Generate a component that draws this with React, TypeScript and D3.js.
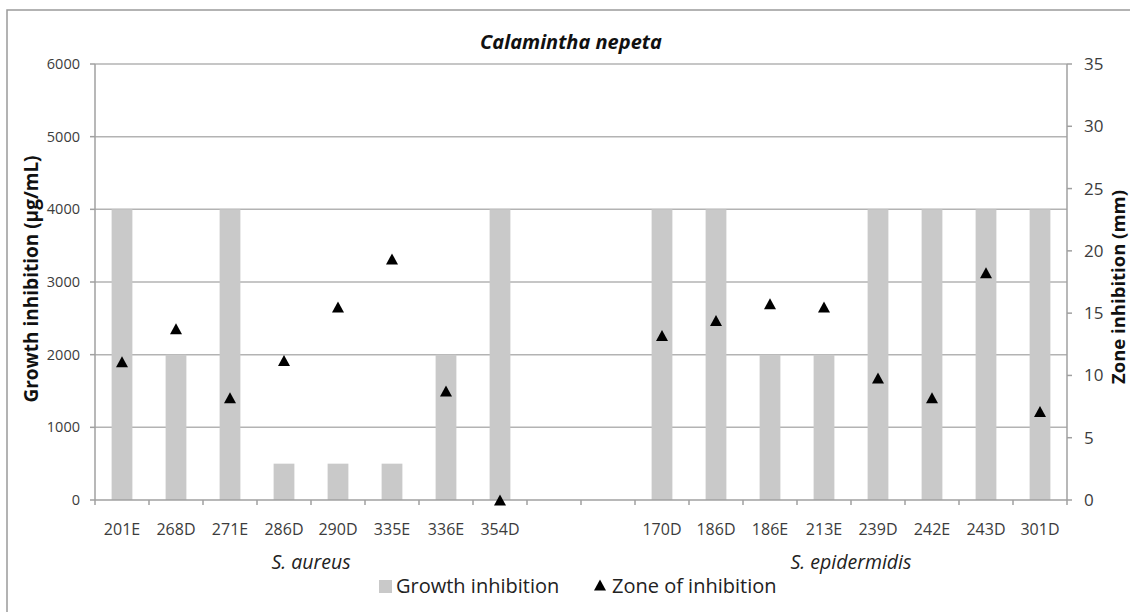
import React from "react";
import * as d3 from "d3";

const categories = ["201E","268D","271E","286D","290D","335E","336E","354D","gap1","gap2","170D","186D","186E","213E","239D","242E","243D","301D"];
const categoryLabels = ["201E","268D","271E","286D","290D","335E","336E","354D","","","170D","186D","186E","213E","239D","242E","243D","301D"];
const growthInhibition: (number | null)[] = [4000,2000,4000,500,500,500,2000,4000,null,null,4000,4000,2000,2000,4000,4000,4000,4000];
const zoneInhibition: (number | null)[] = [11.1,13.75,8.2,11.2,15.5,19.35,8.75,0,null,null,13.2,14.4,15.75,15.5,9.8,8.2,18.25,7.1];
const leftTicks = [0,1000,2000,3000,4000,5000,6000];
const rightTicks = [0,5,10,15,20,25,30,35];
const groups = [
  { name: "S. aureus", from: 0, to: 7 },
  { name: "S. epidermidis", from: 10, to: 17 },
];

const W = 1130, H = 612;
const L = 95, R = 1067, T = 64, B = 500;
const FONT = "'Open Sans', 'Liberation Sans', sans-serif";
const GRID = "#b3b3b3";
const AXIS = "#a0a0a0";
const TXT = "#3c3c3c";
const BAR = "#c9c9c9";

export default function App() {
  const x = d3.scaleBand<string>().domain(categories).range([L, R]).paddingInner(0).paddingOuter(0);
  const yL = d3.scaleLinear().domain([0, 6000]).range([B, T]);
  const yR = d3.scaleLinear().domain([0, 35]).range([B, T]);
  const bw = x.bandwidth() * 0.385;
  const tri = (cx: number, cy: number) => {
    const w = 12, h = 11;
    return `M${cx},${cy - h / 2}L${cx + w / 2},${cy + h / 2}L${cx - w / 2},${cy + h / 2}Z`;
  };
  const boundaries = d3.range(categories.length + 1).map(i => L + i * x.step());

  return (
    <svg width={W} height={H} style={{ position: "absolute", left: 0, top: 0, background: "#fff" }} fontFamily={FONT}>
      <rect x={7} y={10} width={1200} height={700} fill="#fff" stroke="#9a9a9a" strokeWidth={1.5} />
      {/* gridlines */}
      {leftTicks.filter(t => t > 0).map(t => (
        <line key={"g" + t} x1={L} x2={R} y1={yL(t)} y2={yL(t)} stroke={GRID} strokeWidth={1.5} />
      ))}
      {/* bars */}
      {categories.map((c, i) => growthInhibition[i] == null ? null : (
        <rect key={"b" + c} x={x(c)! + x.bandwidth() / 2 - bw / 2} y={yL(growthInhibition[i]!)} width={bw}
          height={B - yL(growthInhibition[i]!)} fill={BAR} />
      ))}
      {/* axes */}
      <line x1={L} x2={L} y1={T} y2={B} stroke={AXIS} strokeWidth={1.5} />
      <line x1={R} x2={R} y1={T} y2={B} stroke={AXIS} strokeWidth={1.5} />
      <line x1={L} x2={R} y1={B} y2={B} stroke={AXIS} strokeWidth={1.5} />
      {leftTicks.map(t => (
        <g key={"lt" + t}>
          <line x1={L - 5} x2={L} y1={yL(t)} y2={yL(t)} stroke={AXIS} strokeWidth={1.5} />
          <text x={80} y={yL(t)} dy="0.35em" textAnchor="end" fontSize={14.5} fill={TXT}>{t}</text>
        </g>
      ))}
      {rightTicks.map(t => (
        <g key={"rt" + t}>
          <line x1={R} x2={R + 5} y1={yR(t)} y2={yR(t)} stroke={AXIS} strokeWidth={1.5} />
          <text x={1084} y={yR(t)} dy="0.35em" textAnchor="start" fontSize={17} fill={TXT}>{t}</text>
        </g>
      ))}
      {boundaries.map((bx, i) => (
        <line key={"xt" + i} x1={bx} x2={bx} y1={B} y2={B + 5} stroke={AXIS} strokeWidth={1.5} />
      ))}
      {categories.map((c, i) => (
        <text key={"xl" + c} x={x(c)! + x.bandwidth() / 2} y={535} textAnchor="middle" fontSize={16} fill={TXT}>{categoryLabels[i]}</text>
      ))}
      {groups.map(g => (
        <text key={g.name} x={(L + g.from * x.step() + L + (g.to + 1) * x.step()) / 2} y={569} textAnchor="middle"
          fontSize={19.5} fontStyle="italic" fill="#222">{g.name}</text>
      ))}
      {/* triangles */}
      {categories.map((c, i) => zoneInhibition[i] == null ? null : (
        <path key={"z" + c} d={tri(x(c)! + x.bandwidth() / 2, yR(zoneInhibition[i]!))} fill="#000" />
      ))}
      {/* titles */}
      <text x={571} y={49} textAnchor="middle" fontSize={20} fontWeight="bold" fontStyle="italic" fill="#111">Calamintha nepeta</text>
      <text transform={`translate(38,${279}) rotate(-90)`} textAnchor="middle" fontSize={19} fontWeight="bold" fill="#111">Growth inhibition (µg/mL)</text>
      <text transform={`translate(1125,${287}) rotate(-90)`} textAnchor="middle" fontSize={18.5} fontWeight="bold" fill="#111">Zone inhibition (mm)</text>
      {/* legend */}
      <rect x={379} y={580} width={13} height={13} fill={BAR} />
      <text x={396} y={593} fontSize={20} fill="#222">Growth inhibition</text>
      <path d={tri(600, 585)} fill="#000" />
      <text x={612} y={593} fontSize={20} fill="#222">Zone of inhibition</text>
    </svg>
  );
}
